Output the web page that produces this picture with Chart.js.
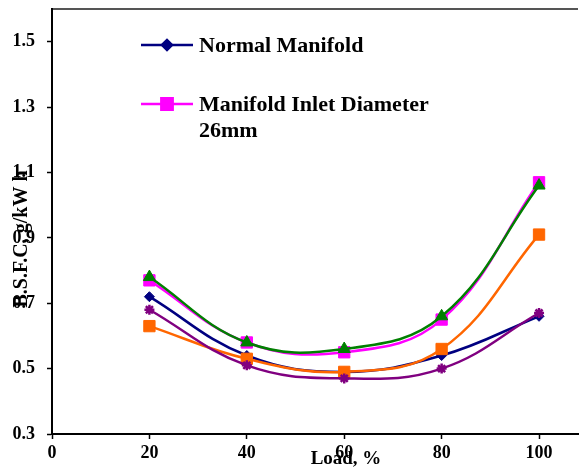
<!DOCTYPE html>
<html>
<head>
<meta charset="utf-8">
<script src="https://cdn.jsdelivr.net/npm/chart.js@4/dist/chart.umd.min.js"></script>
<style>
  html, body { margin: 0; padding: 0; background: #fff; }
  #chart { display: block; }
</style>
</head>
<body>
<canvas id="chart" width="587" height="471"></canvas>
<script>
// load points, %
const loads = [20, 40, 60, 80, 100];

// B.S.F.C values for each manifold
const normalManifold = [0.72, 0.54, 0.49, 0.54, 0.66];
const inletDiameter26 = [0.77, 0.58, 0.55, 0.65, 1.07];
const series3 = [0.78, 0.58, 0.56, 0.66, 1.06];
const series4 = [0.63, 0.53, 0.49, 0.56, 0.91];
const series5 = [0.68, 0.51, 0.47, 0.50, 0.67];

// axis ticks
const xTicks = [0, 20, 40, 60, 80, 100];
const yTicks = [0.3, 0.5, 0.7, 0.9, 1.1, 1.3, 1.5];

// legend text (second label wraps onto two lines)
const legendLines = [['Normal Manifold'], ['Manifold Inlet Diameter', '26mm']];

const SERIF = "'Times New Roman', 'Liberation Serif', serif";

const toPoints = (values) => values.map((v, i) => ({ x: loads[i], y: v }));

function makeSet(label, values, color, style, radius, order) {
  return {
    label,
    data: toPoints(values),
    borderColor: color,
    backgroundColor: color,
    pointBackgroundColor: color,
    pointBorderColor: color,
    pointStyle: style,
    pointRadius: radius,
    pointBorderWidth: style === 'star' ? 2.5 : 1,
    borderWidth: 2.5,
    tension: 0.4,
    order,
  };
}

// рамка сверху области построения
const topBorder = {
  id: 'topBorder',
  beforeDraw(chart) {
    const { ctx, chartArea: { left, right, top } } = chart;
    ctx.save();
    ctx.strokeStyle = '#555555';
    ctx.lineWidth = 2;
    ctx.beginPath();
    ctx.moveTo(left, top);
    ctx.lineTo(right, top);
    ctx.stroke();
    ctx.restore();
  },
};

// подписи осей
const axisTitles = {
  id: 'axisTitles',
  afterDraw(chart) {
    const { ctx } = chart;
    ctx.save();
    ctx.fillStyle = '#000';
    ctx.textAlign = 'center';
    ctx.textBaseline = 'middle';
    ctx.font = `bold 19px ${SERIF}`;
    ctx.fillText('Load, %', 346, 459);
    ctx.font = `bold 20px ${SERIF}`;
    ctx.translate(22, 239);
    ctx.rotate(-Math.PI / 2);
    ctx.fillText('B.S.F.C, g/kW h', 0, 0);
    ctx.restore();
  },
};

// легенда внутри поля диаграммы, только первые две серии
const innerLegend = {
  id: 'innerLegend',
  afterDraw(chart) {
    const { ctx } = chart;
    const rows = [45, 104];
    ctx.save();
    rows.forEach((y, i) => {
      const ds = chart.data.datasets[i];
      ctx.strokeStyle = ds.borderColor;
      ctx.fillStyle = ds.borderColor;
      ctx.lineWidth = 2.5;
      ctx.beginPath();
      ctx.moveTo(141, y);
      ctx.lineTo(193, y);
      ctx.stroke();
      Chart.helpers.drawPoint(ctx, {
        pointStyle: ds.pointStyle,
        radius: ds.pointRadius,
        borderWidth: 1,
        rotation: 0,
      }, 167, y);
      ctx.fillStyle = '#000';
      ctx.font = `bold 22px ${SERIF}`;
      ctx.textAlign = 'left';
      ctx.textBaseline = 'middle';
      legendLines[i].forEach((line, k) => {
        ctx.fillText(line, 199, y + 1 + k * 26);
      });
    });
    ctx.restore();
  },
};

const tickFont = { family: SERIF, size: 18, weight: 'bold' };

new Chart(document.getElementById('chart'), {
  type: 'line',
  data: {
    datasets: [
      makeSet('Normal Manifold', normalManifold, '#000080', 'rectRot', 5, 5),
      makeSet('Manifold Inlet Diameter 26mm', inletDiameter26, '#FF00FF', 'rect', 8, 4),
      makeSet('Series 3', series3, '#008000', 'triangle', 7, 3),
      makeSet('Series 4', series4, '#FF6600', 'rect', 8, 2),
      makeSet('Series 5', series5, '#800080', 'star', 5, 1),
    ],
  },
  options: {
    responsive: false,
    animation: false,
    layout: { padding: { top: 8, right: 0, left: 0, bottom: 0 } },
    plugins: {
      legend: { display: false },
      tooltip: { enabled: false },
    },
    scales: {
      x: {
        type: 'linear',
        min: 0,
        max: 108,
        afterBuildTicks: (axis) => { axis.ticks = xTicks.map((value) => ({ value })); },
        afterFit: (axis) => {
          axis.height = 37;
          axis.paddingLeft = 0;
          axis.paddingRight = 0;
        },
        grid: { drawOnChartArea: false, color: '#000', tickLength: 5, tickWidth: 1.5 },
        border: { color: '#000', width: 2 },
        ticks: { color: '#000', font: tickFont, padding: 4, maxRotation: 0 },
      },
      y: {
        min: 0.3,
        max: 1.6,
        afterBuildTicks: (axis) => { axis.ticks = yTicks.map((value) => ({ value })); },
        afterFit: (axis) => {
          axis.width = 52;
          axis.paddingTop = 0;
          axis.paddingBottom = 0;
        },
        grid: { drawOnChartArea: false, color: '#000', tickLength: 5, tickWidth: 1.5 },
        border: { color: '#000', width: 2 },
        ticks: { color: '#000', font: tickFont, padding: 12 },
      },
    },
  },
  plugins: [topBorder, axisTitles, innerLegend],
});
</script>
</body>
</html>
